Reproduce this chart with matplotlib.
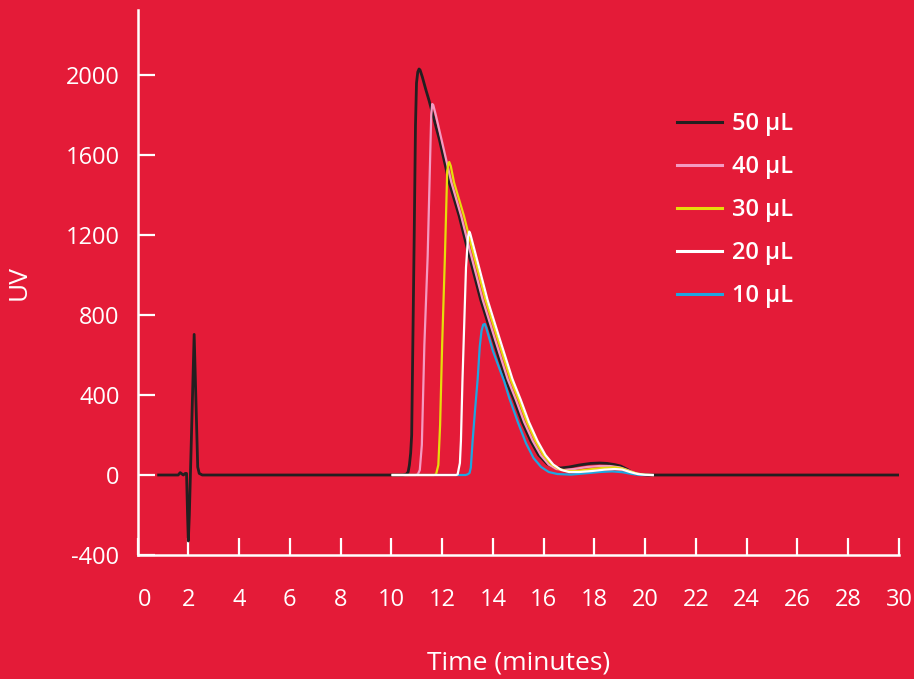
import matplotlib
matplotlib.use("Agg")
import matplotlib.pyplot as plt

BG = "#E41B38"

# ---- data ----
x_50 = [0.83, 1.6, 1.68, 1.74, 1.8, 1.88, 1.93, 1.97, 2.0, 2.04, 2.23, 2.37, 2.43, 2.55,
        10.45, 10.58, 10.66, 10.71, 10.76, 10.80, 10.85, 10.90, 10.95, 10.99, 11.04, 11.09,
        11.13, 11.22, 11.35, 11.49, 11.89, 12.28, 12.67, 13.0, 13.52, 14.0, 14.5, 14.83,
        15.15, 15.49, 15.8, 16.14, 16.4, 16.67, 17.0, 17.4, 17.85, 18.2, 18.5, 18.8, 19.03,
        19.3, 19.5, 19.68, 20.07, 30.0]
y_50 = [0, 0, 12, 6, 0, 8, 8, -200, -330, -200, 703, 40, 8, 0,
        0, 3, 15, 50, 110, 200, 700, 1200, 1750, 1960, 2015, 2030,
        2025, 1990, 1930, 1870, 1678, 1462, 1295, 1128, 875, 680, 480, 375,
        265, 170, 100, 55, 40, 35, 40, 50, 58, 60, 58, 52, 45,
        28, 12, 4, 0, 0]

x_40 = [10.05, 10.95, 11.04, 11.12, 11.2, 11.3, 11.43, 11.52, 11.57, 11.61, 11.65, 11.75,
        11.97, 12.36, 12.75, 13.08, 13.6, 14.08, 14.58, 14.91, 15.23, 15.57, 15.88, 16.2,
        16.5, 16.8, 17.2, 17.7, 18.2, 18.6, 19.0, 19.3, 19.6, 19.9, 20.3]
y_40 = [0, 0, 3, 25, 150, 650, 1095, 1550, 1800, 1855, 1850, 1800,
        1680, 1465, 1295, 1128, 875, 680, 480, 375, 265, 170, 100, 52,
        30, 25, 30, 40, 45, 45, 38, 25, 10, 2, 0]

x_30 = [10.05, 11.68, 11.76, 11.85, 11.92, 12.0, 12.11, 12.2, 12.25, 12.28, 12.34,
        12.47, 12.86, 13.19, 13.71, 14.19, 14.69, 15.02, 15.34, 15.68, 15.99, 16.3,
        16.6, 16.9, 17.3, 17.8, 18.3, 18.8, 19.1, 19.4, 19.7, 20.0, 20.3]
y_30 = [0, 0, 3, 50, 250, 650, 1095, 1520, 1560, 1565, 1545,
        1462, 1295, 1128, 875, 680, 480, 375, 265, 170, 100, 55,
        30, 20, 20, 28, 35, 38, 32, 18, 6, 1, 0]

x_20 = [10.05, 12.55, 12.61, 12.7, 12.74, 12.8, 12.94, 13.02, 13.07, 13.11,
        13.27, 13.79, 14.27, 14.77, 15.1, 15.42, 15.76, 16.07, 16.38, 16.7, 17.0,
        17.4, 17.9, 18.4, 18.8, 19.1, 19.4, 19.7, 20.0, 20.3]
y_20 = [0, 0, 3, 60, 170, 470, 1037, 1190, 1217, 1205,
        1128, 875, 680, 480, 375, 265, 170, 100, 52, 25, 15,
        15, 20, 27, 30, 27, 15, 5, 1, 0]

x_10 = [10.05, 12.92, 13.0, 13.08, 13.13, 13.2, 13.3, 13.4, 13.48, 13.55, 13.62, 13.68,
        13.74, 14.0, 14.44, 14.64, 14.98, 15.3, 15.6, 15.9, 16.2, 16.54, 17.07, 17.6,
        18.2, 18.7, 19.1, 19.5, 19.8, 20.3]
y_10 = [0, 0, 3, 10, 37, 170, 330, 480, 640, 720, 752, 755,
        735, 620, 470, 387, 265, 160, 85, 40, 15, 5, 2, 8,
        15, 18, 14, 5, 0, 0]

labels = ["50 \u00b5L", "40 \u00b5L", "30 \u00b5L", "20 \u00b5L", "10 \u00b5L"]
colors = ["#231F20", "#F49AC1", "#E6DC0A", "#FFFFFF", "#1EA6E0"]

x_ticks = list(range(0, 31, 2))
y_ticks = [-400, 0, 400, 800, 1200, 1600, 2000]

plt.rcParams['font.family'] = ['Open Sans', 'DejaVu Sans']

fig = plt.figure(figsize=(9.14, 6.79), dpi=100, facecolor=BG)
ax = fig.add_axes([0.1505, 0.1826, 0.9836 - 0.1505, 0.9853 - 0.1826])
ax.set_facecolor(BG)

series = [(x_50, y_50), (x_40, y_40), (x_30, y_30), (x_20, y_20), (x_10, y_10)]
lw = [2.0, 1.6, 1.6, 1.6, 1.6]
z = [2, 3, 4, 6, 5]
handles = []
for (xs, ys), c, l, w, zz in zip(series, colors, labels, lw, z):
    h, = ax.plot(xs, ys, color=c, lw=w, label=l, zorder=zz, solid_joinstyle='round')
    handles.append(h)

ax.set_xlim(0, 30)
ax.set_ylim(-400, 2325)
ax.set_xticks(x_ticks)
ax.set_yticks(y_ticks)
ax.set_xticklabels([str(t) for t in x_ticks])
ax.set_yticklabels([str(t) for t in y_ticks])
ax.get_xticklabels()[0].set_ha('left')

for s in ["top", "right"]:
    ax.spines[s].set_visible(False)
for s in ["left", "bottom"]:
    ax.spines[s].set_color("white")
    ax.spines[s].set_linewidth(1.8)

ax.tick_params(axis='both', direction='in', length=12.5, width=1.6, color='white',
               labelcolor='white', labelsize=17)
ax.tick_params(axis='x', pad=23.5)
ax.tick_params(axis='y', pad=13)

ax.set_xlabel("Time (minutes)", color='white', fontsize=19, labelpad=28)
ax.set_ylabel("UV", color='white', fontsize=19, labelpad=24)

leg = ax.legend(handles=handles, loc='upper left', bbox_to_anchor=(0.7410, 0.8345),
                bbox_transform=fig.transFigure, frameon=False, fontsize=17,
                handlelength=1.9, handletextpad=0.42, labelspacing=0.80, borderpad=0,
                borderaxespad=0)
for t in leg.get_texts():
    t.set_color('white')
    t.set_fontweight('semibold')
for lh in leg.get_lines():
    lh.set_linewidth(2.2)

fig.savefig("out.png", dpi=100, facecolor=BG)
